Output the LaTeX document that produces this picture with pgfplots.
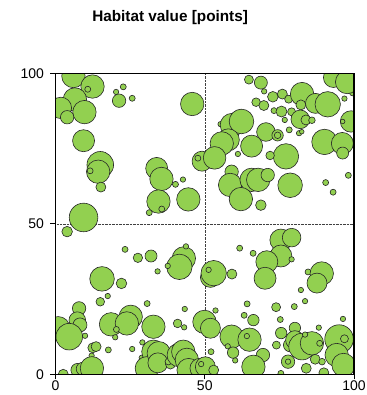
\documentclass[border=0pt]{standalone}
\usepackage{pgfplots}
\pgfplotsset{compat=1.18}
\usepackage{pgfplotstable}
\usepackage{fontspec}
\setmainfont{Liberation Sans}
\definecolor{bubble}{RGB}{146,208,80}

% x, y in points (0-100), r = bubble radius in pt
\pgfplotstableread{
x y r
6.0 99.1 11.7
12.4 95.6 11.7
10.8 94.7 3.0
6.5 91.3 11.7
1.8 88.5 10.7
9.7 87.1 11.7
3.9 85.4 6.7
20.3 93.8 2.7
22.7 95.5 3.0
21.3 90.9 6.7
25.7 91.7 3.0
9.4 77.6 11.0
15.0 69.6 13.3
14.3 67.3 11.7
11.6 67.6 3.0
15.2 62.2 5.0
9.4 52.1 14.3
3.9 47.4 5.3
33.9 68.4 11.0
35.5 64.9 11.7
42.7 64.7 2.7
40.2 63.1 3.0
34.5 57.4 11.7
35.6 54.9 3.0
31.4 53.7 3.0
44.5 58.1 11.7
45.8 89.8 11.7
49.1 70.8 10.0
47.7 71.8 3.0
64.8 97.9 4.5
68.8 96.9 6.5
69.9 94.0 2.7
72.8 92.2 5.3
76.0 93.1 5.0
78.1 91.4 4.0
82.6 93.1 11.7
67.2 90.4 4.3
69.8 89.3 5.0
73.2 87.6 3.0
75.7 87.3 5.5
79.1 87.2 4.0
82.2 89.5 5.0
82.0 84.7 9.3
83.9 84.5 5.0
85.9 84.4 3.3
76.8 84.5 2.7
87.1 90.0 10.0
91.2 89.7 12.7
96.8 91.6 2.7
99.5 93.5 3.0
93.1 98.6 10.0
97.7 97.1 11.7
99.0 84.0 10.7
96.2 84.0 2.3
90.1 77.2 12.7
96.1 76.7 11.0
96.2 73.5 6.0
78.3 81.2 3.0
81.6 80.1 2.7
82.5 80.6 2.3
70.5 80.5 9.3
74.4 79.4 5.7
74.4 79.4 3.3
55.3 83.1 2.7
59.1 82.8 11.7
62.3 84.0 12.3
57.9 77.9 11.0
55.7 76.7 11.7
65.7 75.8 11.0
53.3 71.9 11.3
61.1 73.2 2.7
77.2 72.4 12.7
71.9 72.7 4.3
59.0 67.3 6.7
58.5 62.9 11.7
65.7 64.6 11.7
67.9 64.6 11.7
71.1 66.2 6.7
62.1 58.2 11.7
68.8 56.2 5.3
78.6 62.8 12.3
90.5 63.7 3.0
93.0 60.5 3.0
98.1 66.1 3.0
23.3 41.5 3.0
27.6 38.7 4.7
32.0 39.3 6.0
43.0 38.5 11.7
41.5 35.7 12.7
37.6 36.0 2.7
43.7 42.5 2.7
34.2 34.2 2.7
15.6 31.7 12.3
22.1 30.2 5.3
15.0 24.1 4.3
17.5 26.0 2.7
7.9 21.9 6.7
30.7 23.5 3.0
7.3 18.0 8.3
8.2 16.4 7.0
0.9 15.3 11.7
4.6 12.5 13.3
9.9 12.8 2.7
18.6 16.6 11.7
25.2 19.1 11.7
23.9 16.9 11.7
20.4 14.9 3.0
32.8 15.8 11.7
20.0 12.3 2.7
12.5 8.8 5.0
13.6 9.2 5.0
12.1 6.2 2.7
17.7 8.1 3.0
25.7 8.4 2.7
29.1 10.6 2.7
28.9 5.5 2.7
2.6 0.0 5.0
7.4 1.4 6.7
9.2 1.8 6.7
12.2 2.0 11.7
43.3 21.7 2.7
40.9 16.9 4.3
43.1 15.6 2.7
49.9 17.4 11.7
51.9 15.3 10.0
53.6 21.2 2.7
32.8 7.5 11.7
30.6 2.0 11.7
34.6 7.0 11.7
34.3 3.8 10.0
38.5 3.4 5.0
37.8 4.2 3.3
41.3 6.4 11.7
42.8 7.5 11.7
44.0 4.8 11.7
44.6 1.4 11.7
48.4 2.0 10.0
50.2 2.5 10.0
48.8 3.4 2.7
53.0 1.4 5.0
52.1 7.5 3.0
61.7 41.9 3.0
66.2 40.2 3.0
51.9 32.2 10.0
53.0 33.6 12.7
51.3 34.7 2.7
59.1 33.3 5.0
75.5 44.6 11.0
79.1 45.4 9.3
75.5 39.3 11.0
70.8 37.4 11.0
70.2 31.9 11.0
79.1 38.2 2.7
84.6 34.0 3.0
89.2 33.5 11.7
87.6 30.3 10.0
82.2 28.0 2.7
83.6 24.3 2.7
73.9 22.3 4.5
80.0 22.5 3.0
64.2 23.4 3.0
75.3 18.2 3.0
63.2 19.6 3.0
66.3 18.0 5.7
59.0 12.5 11.7
65.0 11.5 11.7
64.1 12.7 2.7
57.7 9.3 2.7
59.5 7.2 5.7
60.2 4.6 2.7
69.5 6.4 6.7
66.3 2.5 11.7
75.6 13.7 5.7
80.2 15.4 5.7
74.0 9.7 4.0
78.6 9.7 6.7
80.2 11.4 9.3
82.6 9.2 13.3
85.9 10.3 11.7
83.6 13.2 2.7
77.9 4.2 6.7
77.9 4.2 2.7
75.5 0.3 3.0
84.0 2.0 5.0
88.2 15.5 2.7
88.5 10.3 3.0
96.3 18.4 2.7
95.0 11.7 14.3
96.8 11.8 4.0
94.2 6.4 11.7
96.5 3.1 11.7
87.0 5.0 5.0
89.3 4.2 3.3
89.9 0.5 5.0
}\habitat

\begin{document}
\begin{tikzpicture}
\begin{axis}[
  width=298.5pt, height=301pt, scale only axis,
  xmin=0, xmax=100, ymin=0, ymax=100,
  xtick={0,50,100}, ytick={0,50,100},
  tick pos=left, tick align=outside, major tick length=5pt,
  tick style={black, line width=0.8pt},
  grid=major,
  grid style={densely dotted, black!75, line width=0.5pt},
  axis line style={black, line width=1.2pt},
  ticklabel style={font=\fontsize{14}{16}\selectfont},
  xticklabel style={yshift=2pt},
  yticklabel style={xshift=-3pt},
  /pgf/number format/assume math mode=true,
  clip marker paths=true,
  title={Habitat value [points]},
  title style={at={(axis description cs:0.384,1)}, anchor=base, yshift=46pt,
    font=\bfseries\fontsize{15.3}{18}\selectfont},
]
\addplot[scatter, only marks, mark=*,
  scatter/use mapped color={draw=black!85, fill=bubble},
  visualization depends on={\thisrow{r} \as \rad},
  scatter/@pre marker code/.append style={/tikz/mark size=\rad},
  mark options={line width=0.6pt}]
  table[x=x, y=y, meta=r] {\habitat};
\end{axis}
\draw[line width=1.2pt] (current axis.south west) rectangle (current axis.north east);
\pgfresetboundingbox
\useasboundingbox (current axis.south west) ++(-55.5pt,-20.7pt) rectangle ++(366pt,395pt);
\end{tikzpicture}
\end{document}
